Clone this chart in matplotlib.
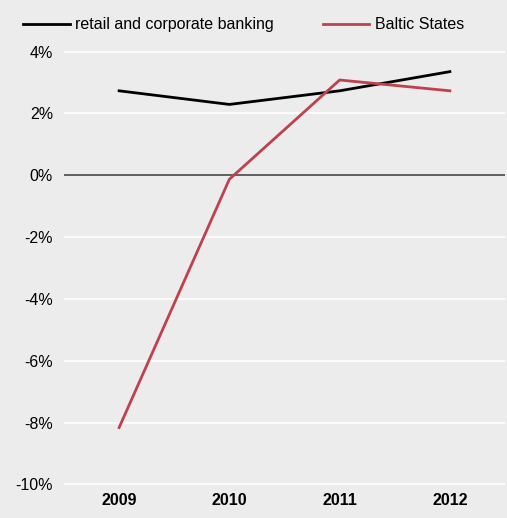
import matplotlib.pyplot as plt
import numpy as np

years = ["2009", "2010", "2011", "2012"]
retail = [2.73, 2.29, 2.73, 3.35]
baltic = [-8.16, -0.13, 3.08, 2.73]
yticks = [-10, -8, -6, -4, -2, 0, 2, 4]

bg = "#ebeceb"
plt.rcParams["font.family"] = ["Liberation Sans", "DejaVu Sans"]

fig = plt.figure(figsize=(5.07, 5.18), dpi=100, facecolor=bg)
ax = fig.add_axes([64 / 507, 32 / 518, 441 / 507, 436 / 518], facecolor=bg)

x = np.arange(len(years))
ax.set_xlim(-0.5, 3.5)
ax.set_ylim(-10.05, 4.05)

for v in yticks:
    if v == 0:
        ax.axhline(v, color="#555555", lw=1.3, zorder=1)
    else:
        ax.axhline(v, color="white", lw=1.2, zorder=1)

ax.plot(x, retail, color="black", lw=2, label="retail and corporate banking", zorder=3)
ax.plot(x, baltic, color="#c0414e", lw=2, label="Baltic States", zorder=3)

ax.set_xticks(x)
ax.set_xticklabels(years, fontsize=11.5, fontweight="bold")
ax.set_yticks(yticks)
ax.set_yticklabels([f"{v}%" for v in yticks], fontsize=11.5)
ax.tick_params(length=0)
ax.tick_params(axis="y", pad=8)
ax.tick_params(axis="x", pad=5)
for s in ax.spines.values():
    s.set_visible(False)

ax.legend(loc="lower left", bbox_to_anchor=(-0.092, 1.041), ncol=2, frameon=False,
          fontsize=11.5, handlelength=2.9, handletextpad=0.35, columnspacing=3.05,
          borderaxespad=0.0, borderpad=0.0)

fig.savefig("out.png", dpi=100, facecolor=bg)
